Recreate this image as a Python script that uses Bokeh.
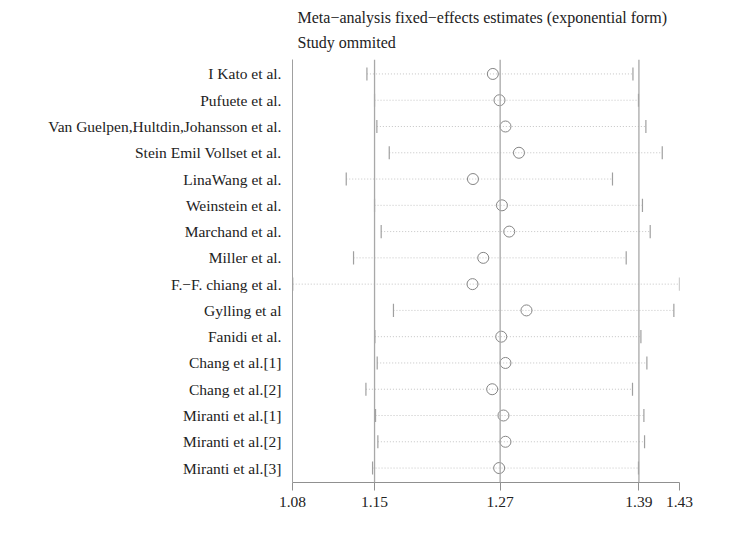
from bokeh.plotting import figure
from bokeh.models import Range1d, FixedTicker, Span, Title, ColumnDataSource
from bokeh.embed import file_html
from bokeh.resources import INLINE

studies = ["I Kato et al.", "Pufuete et al.", "Van Guelpen,Hultdin,Johansson et al.",
           "Stein Emil Vollset et al.", "LinaWang et al.", "Weinstein et al.",
           "Marchand et al.", "Miller et al.", "F.\u2212F. chiang et al.", "Gylling et al",
           "Fanidi et al.", "Chang et al.[1]", "Chang et al.[2]", "Miranti et al.[1]",
           "Miranti et al.[2]", "Miranti et al.[3]"]
estimate = [1.2612, 1.2672, 1.2726, 1.2848, 1.2432, 1.2694, 1.2760, 1.2525,
            1.2428, 1.2916, 1.2688, 1.2726, 1.2606, 1.2708, 1.2726, 1.2669]
lower = [1.1473, 1.1542, 1.1563, 1.1675, 1.1286, 1.1542, 1.1602, 1.1352,
         1.0802, 1.1713, 1.1545, 1.1566, 1.1464, 1.1551, 1.1572, 1.1524]
upper = [1.3879, 1.3929, 1.3996, 1.4144, 1.3694, 1.3965, 1.4035, 1.3818,
         1.4300, 1.4249, 1.3951, 1.4005, 1.3875, 1.3978, 1.3984, 1.3929]
tick_values = [1.0800, 1.1542, 1.2678, 1.3933, 1.4300]
tick_labels = ["1.08", "1.15", "1.27", "1.39", "1.43"]
ref_lines = [1.1542, 1.2678, 1.3933]

FONT = "Liberation Serif"
rows = list(range(1, len(studies) + 1))
src = ColumnDataSource(dict(y=rows, est=estimate, lo=lower, hi=upper,
                            y0=[r - 0.25 for r in rows], y1=[r + 0.25 for r in rows]))

p = figure(width=713, height=520, output_backend="svg", toolbar_location=None,
           x_range=Range1d(tick_values[0], tick_values[-1]),
           y_range=Range1d(16.55, 0.45),
           min_border_left=292, min_border_right=34, min_border_bottom=38, min_border_top=59)
p.title = None
p.outline_line_color = None
p.background_fill_color = "white"
p.border_fill_color = "white"
p.xgrid.visible = False
p.ygrid.visible = False

t2 = Title(text="Study ommited", align="left", text_font=FONT, text_font_size="16px",
           text_font_style="normal", text_color="#222222", offset=5, standoff=18)
t1 = Title(text="Meta\u2212analysis fixed\u2212effects estimates (exponential form)", align="left",
           text_font=FONT, text_font_size="16px", text_font_style="normal",
           text_color="#222222", offset=5, standoff=-7)
p.add_layout(t2, "above")
p.add_layout(t1, "above")

for xv in ref_lines:
    p.add_layout(Span(location=xv, dimension="height", line_color="#a8a8a8", line_width=1.3))

p.segment(x0="lo", x1="hi", y0="y", y1="y", source=src, line_color="#c4c4c4",
          line_width=1, line_dash="1 2")
p.segment(x0="lo", x1="lo", y0="y0", y1="y1", source=src, line_color="#a0a0a0", line_width=1.2)
p.segment(x0="hi", x1="hi", y0="y0", y1="y1", source=src, line_color="#a0a0a0", line_width=1.2)
p.scatter(x="est", y="y", source=src, size=11, marker="circle", fill_color=None,
          line_color="#858585", line_width=1)

xa = p.xaxis[0]
xa.ticker = FixedTicker(ticks=tick_values)
xa.major_label_overrides = {v: l for v, l in zip(tick_values, tick_labels)}
xa.minor_tick_line_color = None
xa.major_tick_out = 8
xa.major_tick_in = 0
xa.axis_line_color = "#909090"
xa.major_tick_line_color = "#909090"
xa.major_label_text_font = FONT
xa.major_label_text_font_size = "15.5px"
xa.major_label_text_color = "#222222"
xa.major_label_standoff = 6

ya = p.yaxis[0]
ya.ticker = FixedTicker(ticks=rows)
ya.major_label_overrides = {r: s for r, s in zip(rows, studies)}
ya.minor_tick_line_color = None
ya.major_tick_line_color = None
ya.major_tick_out = 0
ya.major_tick_in = 0
ya.axis_line_color = "#a0a0a0"
ya.major_label_text_font = FONT
ya.major_label_text_font_size = "15.5px"
ya.major_label_text_color = "#222222"
ya.major_label_standoff = 11

open("out.html", "w").write(file_html(p, INLINE))
